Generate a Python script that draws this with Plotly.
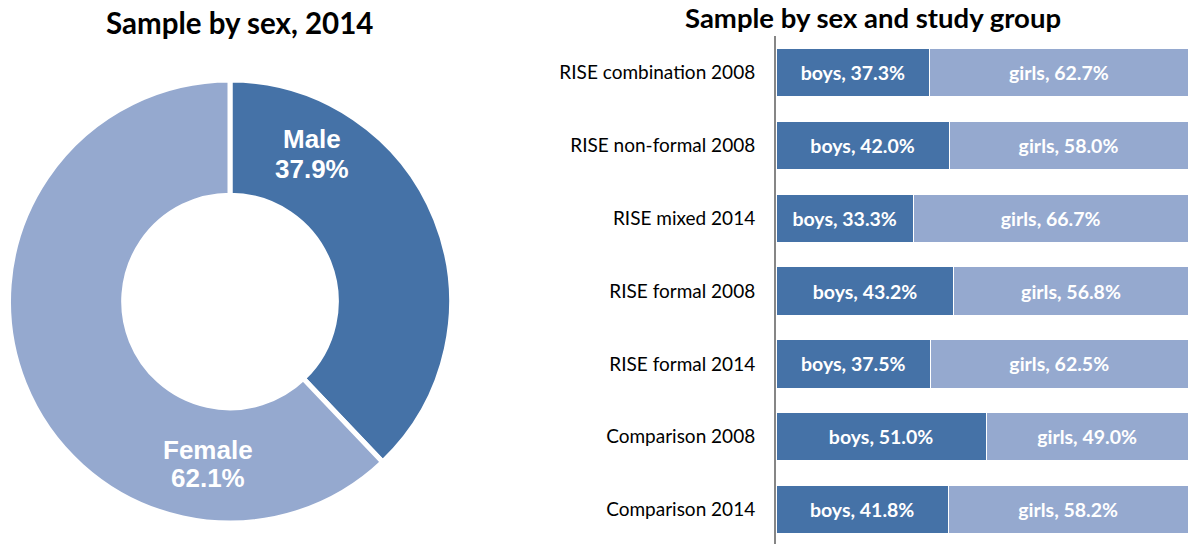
import plotly.graph_objects as go

W, H = 1188, 544

# ---- data ----
sex_labels = ["Male", "Female"]
sex_values = [37.9, 62.1]

groups = ["RISE combination 2008", "RISE non-formal 2008", "RISE mixed 2014",
          "RISE formal 2008", "RISE formal 2014", "Comparison 2008", "Comparison 2014"]
boys = [37.3, 42.0, 33.3, 43.2, 37.5, 51.0, 41.8]
girls = [62.7, 58.0, 66.7, 56.8, 62.5, 49.0, 58.2]

DARK = "#4572A7"
LIGHT = "#95A9CF"
TITLE_FONT = "Lato"


def px_x(p):
    return p / W


def px_y(p):
    return 1 - p / H


fig = go.Figure()

# donut
cx, cy, r = 230, 301.5, 221.5
fig.add_trace(go.Pie(
    labels=sex_labels, values=sex_values, sort=False, direction="clockwise",
    rotation=0, hole=0.48, textinfo="none", hoverinfo="label+percent",
    marker=dict(colors=[DARK, LIGHT], line=dict(color="white", width=5)),
    domain=dict(x=[px_x(cx - r), px_x(cx + r)], y=[px_y(cy + r), px_y(cy - r)]),
    showlegend=False,
))

# stacked bars
fig.add_trace(go.Bar(
    y=groups, x=boys, orientation="h", name="boys",
    marker=dict(color=DARK, line=dict(color="white", width=1)),
    texttemplate="boys, %{x:.1f}%", textposition="inside", insidetextanchor="middle",
    textfont=dict(family=TITLE_FONT, size=19.5, color="white", weight="bold"),
    showlegend=False, cliponaxis=False,
))
fig.add_trace(go.Bar(
    y=groups, x=girls, orientation="h", name="girls",
    marker=dict(color=LIGHT, line=dict(color="white", width=1)),
    texttemplate="girls, %{x:.1f}%", textposition="inside", insidetextanchor="middle",
    textfont=dict(family=TITLE_FONT, size=19.5, color="white", weight="bold"),
    showlegend=False, cliponaxis=False,
))

annotations = [
    dict(text="<b>Sample by sex, 2014</b>", x=px_x(239), y=px_y(23), xref="paper", yref="paper",
         xanchor="center", yanchor="middle", showarrow=False,
         font=dict(family=TITLE_FONT, size=29.5, color="black")),
    dict(text="<b>Sample by sex and study group</b>", x=px_x(872.5), y=px_y(18), xref="paper",
         yref="paper", xanchor="center", yanchor="middle", showarrow=False,
         font=dict(family=TITLE_FONT, size=27.5, color="black")),
]

label_pos = [((311.7, 138.5), (311.7, 168.5)), ((208, 450), (208, 478))]
for i, lab in enumerate(sex_labels):
    (x1, y1), (x2, y2) = label_pos[i]
    annotations.append(dict(text=f"<b>{lab}</b>", x=px_x(x1), y=px_y(y1), xref="paper", yref="paper",
                            xanchor="center", yanchor="middle", showarrow=False,
                            font=dict(family="Liberation Sans", size=26, color="white")))
    annotations.append(dict(text=f"<b>{sex_values[i]:.1f}%</b>", x=px_x(x2), y=px_y(y2), xref="paper",
                            yref="paper", xanchor="center", yanchor="middle", showarrow=False,
                            font=dict(family="Liberation Sans", size=26, color="white")))

fig.update_layout(
    width=W, height=H, margin=dict(l=0, r=0, t=0, b=0),
    paper_bgcolor="white", plot_bgcolor="white",
    barmode="stack", bargap=0.334,
    annotations=annotations,
    xaxis=dict(domain=[776 / W, 1], range=[0, 100], visible=False, fixedrange=True),
    yaxis=dict(domain=[0, 1 - 36 / H], range=[6.474, -0.504], showline=True,
               linecolor="#868686", linewidth=2, ticks="", showgrid=False, zeroline=False,
               ticklabelstandoff=15,
               tickfont=dict(family=TITLE_FONT, size=19, color="black"), fixedrange=True),
    uniformtext=dict(mode=False),
)

fig.write_html("out.html", config={"displayModeBar": False},
               post_script="document.body.style.margin='0';document.body.style.overflow='hidden';")
